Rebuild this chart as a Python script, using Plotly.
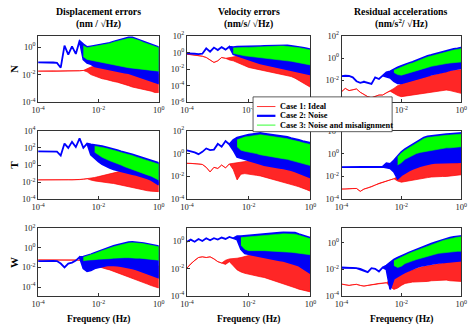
import plotly.graph_objects as go

# ---------------- data (frequency grid in Hz, spectra as log10 exponents) ----------------
FREQ = [1.0e-4, 1.33e-4, 1.78e-4, 2.37e-4, 3.16e-4, 4.22e-4, 5.62e-4, 7.5e-4,
        1.0e-3, 1.33e-3, 1.78e-3, 2.37e-3, 3.16e-3, 4.22e-3, 5.62e-3, 7.5e-3,
        1.0e-2, 1.33e-2, 1.78e-2, 2.37e-2, 3.16e-2, 4.22e-2, 5.62e-2, 7.5e-2,
        0.1, 0.133, 0.178, 0.237, 0.316, 0.422, 0.562, 0.75,
        1.0]
N_ = None

# Row N, displacement errors
N_dis_c1_lo = [-1.75,-1.75,-1.76,-1.75,-1.74,-1.75,-1.76,-1.75, -1.74,-1.75,-1.73,-1.72,-1.7,-1.8,-2.0,-2.1,
               -2.2,-2.3,-2.35,-2.4,-2.5,-2.55,-2.6,-2.7, -2.8,-2.9,-3.0,-3.0,-3.1,-3.15,-3.2,-3.3, -3.3]
N_dis_c1_hi = [-1.75,-1.75,-1.76,-1.75,-1.74,-1.75,-1.76,-1.75, -1.74,-1.75,-1.73,-1.72,-1.7,-1.55,-1.45,-1.4,
               -1.3,-1.25,-1.2,-1.1,-1.0,-0.95,-0.9,-0.85, -0.85,-0.9,-1.0,-1.1,-1.2,-1.3,-1.5,-1.75, -2.0]
N_dis_c2_lo = [-1.12,-1.12,-1.12,-1.13,-1.12,-1.15,-1.5,0.1, -0.55,0.05,-0.5,0.45,-0.9,-1.15,-1.25,-1.4,
               -1.5,-1.55,-1.6,-1.65,-1.7,-1.75,-1.8,-1.85, -1.9,-1.95,-2.05,-2.15,-2.25,-2.35,-2.45,-2.55, -2.65]
N_dis_c2_hi = [-1.12,-1.12,-1.12,-1.13,-1.12,-1.15,-1.5,0.1, -0.55,0.05,-0.5,0.45,0.2,0.0,0.05,0.1,
               0.15,0.15,0.2,0.3,0.4,0.48,0.55,0.62, 0.7,0.7,0.6,0.5,0.38,0.28,0.18,0.08, 0.0]
N_dis_c3_lo = [N_,N_,N_,N_,N_,N_,N_,N_, N_,N_,N_,N_,-0.7,-0.9,-1.0,-1.05,
               -1.1,-1.15,-1.2,-1.25,-1.3,-1.35,-1.4,-1.45, -1.5,-1.55,-1.6,-1.62,-1.65,-1.68,-1.7,-1.72, -1.75]
N_dis_c3_hi = [N_,N_,N_,N_,N_,N_,N_,N_, N_,N_,N_,N_,0.1,-0.05,0.0,0.05,
               0.1,0.1,0.15,0.25,0.35,0.42,0.5,0.57, 0.63,0.63,0.55,0.45,0.33,0.22,0.12,0.03, -0.05]

# Row N, velocity errors
N_vel_c1_lo = [-0.2,-0.25,-0.3,-0.35,-0.45,-0.6,-0.9,-1.2, -1.0,-0.6,-0.7,-0.9,-1.0,-1.2,-1.4,-1.6,
               -1.8,-1.9,-2.0,-2.1,-2.2,-2.3,-2.4,-2.5, -2.6,-2.7,-2.8,-2.9,-3.1,-3.3,-3.6,-3.9, -4.2]
N_vel_c1_hi = [-0.2,-0.25,-0.3,-0.35,-0.45,-0.6,-0.9,-1.2, -1.0,-0.6,-0.7,-0.6,-0.5,-0.45,-0.4,-0.4,
               -0.45,-0.5,-0.5,-0.55,-0.6,-0.65,-0.7,-0.75, -0.85,-0.95,-1.05,-1.2,-1.35,-1.5,-1.7,-1.9, -2.1]
N_vel_c2_lo = [-0.1,-0.1,-0.15,-0.2,-0.15,0.5,0.1,0.6, 0.3,0.65,0.35,0.7,-0.2,-0.4,-0.55,-0.7,
               -0.85,-1.0,-1.15,-1.3,-1.45,-1.55,-1.65,-1.75, -1.85,-1.95,-2.05,-2.15,-2.25,-2.35,-2.45,-2.55, -2.65]
N_vel_c2_hi = [-0.1,-0.1,-0.15,-0.2,-0.15,0.5,0.1,0.6, 0.3,0.65,0.35,0.7,0.65,0.7,0.7,0.72,
               0.72,0.75,0.75,0.78,0.8,0.82,0.85,0.87, 0.88,0.88,0.85,0.8,0.75,0.68,0.6,0.5, 0.4]
N_vel_c3_lo = [N_,N_,N_,N_,N_,N_,N_,N_, N_,N_,N_,N_,-0.1,-0.2,-0.3,-0.4,
               -0.5,-0.55,-0.6,-0.65,-0.7,-0.75,-0.8,-0.85, -0.9,-0.95,-1.0,-1.05,-1.1,-1.2,-1.3,-1.4, -1.5]
N_vel_c3_hi = [N_,N_,N_,N_,N_,N_,N_,N_, N_,N_,N_,N_,0.55,0.6,0.6,0.62,
               0.62,0.65,0.65,0.68,0.7,0.72,0.75,0.77, 0.78,0.78,0.75,0.7,0.65,0.58,0.5,0.4, 0.3]

# Row N, residual accelerations
N_acc_c1_lo = [-3.05,-2.75,-2.95,-2.85,-2.8,-3.1,-3.3,-3.5, -3.6,-3.45,-3.35,-3.35,-3.15,-3.0,-3.2,-3.4,
               -3.5,-3.45,-3.4,-3.35,-3.3,-3.25,-3.2,-3.15, -3.1,-3.05,-3.0,-2.95,-2.9,-2.95,-3.0,-3.1, -3.2]
N_acc_c1_hi = [-3.05,-2.75,-2.95,-2.85,-2.8,-3.1,-3.3,-3.5, -3.6,-3.45,-3.35,-3.35,-3.15,-3.0,-2.75,-2.5,
               -2.35,-2.25,-2.1,-2.0,-1.9,-1.8,-1.7,-1.65, -1.6,-1.5,-1.4,-1.3,-1.2,-1.15,-1.1,-1.05, -1.05]
N_acc_c2_lo = [-1.63,-1.6,-1.62,-1.75,-2.1,-2.25,-2.15,-2.25, -2.35,-1.75,-1.9,-1.6,-1.7,-1.8,-2.1,-2.3,
               -2.3,-2.2,-2.1,-2.0,-1.9,-1.8,-1.72,-1.62, -1.5,-1.42,-1.35,-1.27,-1.2,-1.1,-1.02,-0.97, -0.92]
N_acc_c2_hi = [-1.63,-1.6,-1.62,-1.75,-2.1,-2.25,-2.15,-2.25, -2.35,-1.75,-1.9,-1.6,-1.3,-1.2,-1.0,-0.85,
               -0.7,-0.55,-0.45,-0.35,-0.2,-0.05,0.1,0.2, 0.28,0.38,0.48,0.58,0.65,0.75,0.82,0.88, 0.95]
N_acc_c3_lo = [N_,N_,N_,N_,N_,N_,N_,N_, N_,N_,N_,N_,N_,N_,-1.3,-1.5,
               -1.55,-1.45,-1.35,-1.25,-1.15,-1.05,-0.95,-0.85, -0.75,-0.7,-0.62,-0.55,-0.5,-0.45,-0.4,-0.37, -0.35]
N_acc_c3_hi = [N_,N_,N_,N_,N_,N_,N_,N_, N_,N_,N_,N_,N_,N_,-1.1,-0.95,
               -0.8,-0.65,-0.55,-0.45,-0.3,-0.15,0.0,0.1, 0.18,0.28,0.38,0.48,0.55,0.65,0.72,0.78, 0.85]

# Row T, displacement errors
T_dis_c1_lo = [-1.73,-1.73,-1.74,-1.73,-1.72,-1.73,-1.74,-1.73, -1.72,-1.73,-1.72,-1.7,-1.65,-1.6,-1.75,-1.85,
               -1.95,-2.0,-2.05,-2.1,-2.15,-2.2,-2.3,-2.4, -2.5,-2.6,-2.7,-2.8,-2.9,-3.0,-3.05,-3.1, -3.1]
T_dis_c1_hi = [-1.73,-1.73,-1.74,-1.73,-1.72,-1.73,-1.74,-1.73, -1.72,-1.73,-1.72,-1.7,-1.65,-1.6,-1.5,-1.45,
               -1.35,-1.25,-1.15,-1.0,-0.9,-0.8,-0.7,-0.6, -0.5,-0.5,-0.55,-0.7,-0.9,-1.15,-1.4,-1.7, -2.0]
T_dis_c2_lo = [1.58,1.58,1.57,1.58,1.57,1.56,1.1,2.5, 2.0,2.7,2.1,3.1,2.0,2.5,1.2,0.8,
               0.4,0.1,-0.15,-0.35,-0.5,-0.65,-0.75,-0.85, -0.95,-1.05,-1.15,-1.25,-1.4,-1.55,-1.75,-2.0, -2.3]
T_dis_c2_hi = [1.58,1.58,1.57,1.58,1.57,1.56,1.1,2.5, 2.0,2.7,2.1,3.1,2.0,2.5,2.4,2.35,
               2.3,2.2,2.1,2.0,1.9,1.75,1.6,1.5, 1.4,1.25,1.1,0.95,0.85,0.7,0.55,0.4, 0.25]
T_dis_c3_lo = [N_,N_,N_,N_,N_,N_,N_,N_, N_,N_,N_,N_,N_,N_,N_,1.5,
               1.2,0.9,0.7,0.5,0.3,0.15,0.0,-0.2, -0.35,-0.5,-0.7,-0.85,-1.0,-1.15,-1.3,-1.5, -1.75]
T_dis_c3_hi = [N_,N_,N_,N_,N_,N_,N_,N_, N_,N_,N_,N_,N_,N_,N_,2.2,
               2.15,2.05,1.95,1.85,1.75,1.6,1.45,1.35, 1.25,1.1,0.95,0.8,0.7,0.55,0.4,0.25, 0.1]

# Row T, velocity errors
T_vel_c1_lo = [-0.85,-0.85,-0.9,-0.9,-0.95,-1.2,-1.6,-1.2, -1.3,-1.0,-1.25,-0.9,-1.4,-2.3,-1.8,-1.75,
               -1.8,-1.85,-1.9,-1.95,-2.0,-2.1,-2.2,-2.3, -2.4,-2.5,-2.6,-2.7,-2.8,-2.9,-3.0,-3.15, -3.3]
T_vel_c1_hi = [-0.85,-0.85,-0.9,-0.9,-0.95,-1.2,-1.6,-1.2, -1.3,-1.0,-1.25,-0.9,-0.85,-0.8,-0.75,-0.7,
               -0.65,-0.6,-0.65,-0.7,-0.72,-0.75,-0.8,-0.85, -0.9,-1.0,-1.05,-1.15,-1.25,-1.35,-1.5,-1.6, -1.75]
T_vel_c2_lo = [0.28,0.2,0.1,-0.05,0.15,0.45,0.3,0.35, 0.85,0.6,1.1,0.8,0.3,-0.3,-0.45,-0.55,
               -0.6,-0.7,-0.8,-0.9,-1.0,-1.05,-1.1,-1.2, -1.25,-1.3,-1.35,-1.45,-1.55,-1.65,-1.8,-1.95, -2.1]
T_vel_c2_hi = [0.28,0.2,0.1,-0.05,0.15,0.45,0.3,0.35, 0.85,0.6,1.1,0.8,1.2,1.4,1.5,1.6,
               1.65,1.7,1.75,1.8,1.75,1.7,1.7,1.65, 1.55,1.5,1.45,1.35,1.3,1.2,1.1,1.0, 0.95]
T_vel_c3_lo = [N_,N_,N_,N_,N_,N_,N_,N_, N_,N_,N_,N_,N_,0.6,0.3,0.2,
               0.1,0.05,0.0,-0.1,-0.15,-0.2,-0.25,-0.3, -0.4,-0.45,-0.5,-0.6,-0.7,-0.75,-0.85,-0.95, -1.05]
T_vel_c3_hi = [N_,N_,N_,N_,N_,N_,N_,N_, N_,N_,N_,N_,N_,1.2,1.35,1.45,
               1.5,1.55,1.6,1.65,1.6,1.55,1.55,1.5, 1.4,1.35,1.3,1.2,1.15,1.05,0.95,0.85, 0.8]

# Row T, residual accelerations
T_acc_c1_lo = [-3.1,-3.1,-3.1,-3.05,-3.05,-3.3,-3.1,-3.0, -2.9,-2.75,-2.6,-2.5,-2.4,-2.3,-2.2,-2.4,
               -2.5,-2.4,-2.35,-2.3,-2.25,-2.2,-2.15,-2.1, -2.05,-2.0,-2.0,-2.0,-2.0,-1.95,-1.9,-1.9, -1.85]
T_acc_c1_hi = [-3.1,-3.1,-3.1,-3.05,-3.05,-3.3,-3.1,-3.0, -2.9,-2.75,-2.6,-2.5,-2.4,-2.3,-2.2,-2.0,
               -1.8,-1.6,-1.45,-1.3,-1.15,-1.0,-0.9,-0.8, -0.75,-0.7,-0.7,-0.7,-0.7,-0.75,-0.8,-0.85, -0.85]
T_acc_c2_lo = [-1.18,-1.18,-1.17,-1.18,-1.18,-1.17,-1.18,-1.18, -1.17,-1.18,-1.18,-1.15,-1.2,-1.3,-1.6,-2.2,
               -1.9,-1.7,-1.5,-1.35,-1.2,-1.1,-1.0,-0.9, -0.85,-0.8,-0.8,-0.75,-0.75,-0.75,-0.75,-0.75, -0.75]
T_acc_c2_hi = [-1.18,-1.18,-1.17,-1.18,-1.18,-1.17,-1.18,-1.18, -1.17,-1.18,-1.18,-1.15,-0.85,-0.9,-0.6,-0.2,
               0.15,0.4,0.6,0.85,1.05,1.25,1.4,1.5, 1.55,1.6,1.6,1.65,1.7,1.72,1.75,1.78, 1.8]
T_acc_c3_lo = [N_,N_,N_,N_,N_,N_,N_,N_, N_,N_,N_,N_,N_,N_,N_,-1.0,
               -0.8,-0.5,-0.3,-0.15,0.0,0.1,0.15,0.25, 0.3,0.35,0.4,0.45,0.5,0.5,0.55,0.55, 0.6]
T_acc_c3_hi = [N_,N_,N_,N_,N_,N_,N_,N_, N_,N_,N_,N_,N_,N_,N_,-0.3,
               0.05,0.3,0.5,0.75,0.95,1.15,1.3,1.4, 1.45,1.5,1.5,1.55,1.6,1.62,1.65,1.68, 1.7]

# Row W, displacement errors
W_dis_c1_lo = [-1.23,-1.23,-1.23,-1.22,-1.23,-1.23,-1.24,-1.23, -1.23,-1.23,-1.23,-1.25,-1.3,-1.35,-1.6,-1.8,
               -1.95,-2.05,-2.15,-2.25,-2.4,-2.5,-2.65,-2.8, -2.95,-3.1,-3.25,-3.4,-3.55,-3.7,-3.85,-4.0, -4.1]
W_dis_c1_hi = [-1.23,-1.23,-1.23,-1.22,-1.23,-1.23,-1.24,-1.23, -1.23,-1.23,-1.23,-1.25,-1.3,-1.35,-1.3,-1.25,
               -1.2,-1.15,-1.1,-1.05,-1.0,-0.95,-0.92,-0.9, -0.9,-0.95,-1.0,-1.1,-1.25,-1.4,-1.55,-1.7, -1.85]
W_dis_c2_lo = [-1.36,-1.36,-1.35,-1.36,-1.33,-1.35,-1.6,-2.0, -1.6,-1.5,-1.3,-0.95,-2.1,-2.4,-2.3,-2.1,
               -2.0,-1.9,-1.8,-1.75,-1.75,-1.8,-1.85,-1.9, -2.0,-2.1,-2.2,-2.35,-2.5,-2.6,-2.75,-2.9, -3.05]
W_dis_c2_hi = [-1.36,-1.36,-1.35,-1.36,-1.33,-1.35,-1.6,-2.0, -1.6,-1.5,-1.3,-0.95,-0.9,-0.8,-0.65,-0.5,
               -0.35,-0.2,-0.05,0.1,0.2,0.3,0.4,0.5, 0.6,0.62,0.6,0.55,0.5,0.42,0.35,0.27, 0.19]
W_dis_c3_lo = [N_,N_,N_,N_,N_,N_,N_,N_, N_,N_,N_,N_,-1.3,-1.25,-1.2,-1.2,
               -1.15,-1.15,-1.1,-1.1,-1.05,-1.05,-1.0,-1.0, -1.0,-1.0,-1.05,-1.05,-1.1,-1.1,-1.15,-1.2, -1.25]
W_dis_c3_hi = [N_,N_,N_,N_,N_,N_,N_,N_, N_,N_,N_,N_,-0.95,-0.85,-0.72,-0.58,
               -0.42,-0.28,-0.12,0.02,0.12,0.22,0.32,0.42, 0.5,0.53,0.52,0.47,0.42,0.35,0.27,0.2, 0.12]

# Row W, velocity errors
W_vel_c1_lo = [-1.97,-1.65,-1.4,-1.2,-1.15,-1.2,-1.15,-1.3, -1.5,-1.6,-1.7,-1.5,-1.8,-2.1,-2.25,-2.35,
               -2.45,-2.5,-2.55,-2.6,-2.65,-2.75,-2.85,-2.95, -3.0,-3.1,-3.2,-3.3,-3.4,-3.5,-3.55,-3.65, -3.7]
W_vel_c1_hi = [-1.97,-1.65,-1.4,-1.2,-1.15,-1.2,-1.15,-1.3, -1.5,-1.6,-1.4,-1.3,-1.3,-1.25,-1.2,-1.1,
               -1.05,-1.0,-0.97,-0.95,-0.93,-0.93,-0.95,-1.0, -1.1,-1.2,-1.3,-1.45,-1.6,-1.7,-1.8,-1.9, -1.97]
W_vel_c2_lo = [-0.05,0.1,-0.05,0.15,0.0,0.2,0.05,0.2, 0.1,0.25,0.15,0.3,0.2,0.1,-0.6,-0.9,
               -1.0,-1.05,-1.1,-1.15,-1.2,-1.25,-1.3,-1.35, -1.4,-1.45,-1.5,-1.6,-1.7,-1.8,-1.95,-2.15, -2.35]
W_vel_c2_hi = [-0.05,0.1,-0.05,0.15,0.0,0.2,0.05,0.2, 0.1,0.25,0.15,0.3,0.2,0.35,0.35,0.38,
               0.4,0.42,0.45,0.47,0.5,0.52,0.55,0.58, 0.6,0.62,0.63,0.63,0.6,0.5,0.42,0.32, 0.23]
W_vel_c3_lo = [N_,N_,N_,N_,N_,N_,N_,N_, N_,N_,N_,N_,N_,N_,-0.3,-0.6,
               -0.7,-0.7,-0.7,-0.7,-0.7,-0.7,-0.7,-0.72, -0.75,-0.77,-0.8,-0.82,-0.85,-0.88,-0.9,-0.95, -1.0]
W_vel_c3_hi = [N_,N_,N_,N_,N_,N_,N_,N_, N_,N_,N_,N_,N_,N_,0.25,0.28,
               0.3,0.33,0.36,0.38,0.4,0.43,0.45,0.48, 0.5,0.52,0.53,0.53,0.5,0.42,0.34,0.25, 0.16]

# Row W, residual accelerations
W_acc_c1_lo = [-3.1,-3.15,-3.2,-3.15,-3.12,-3.2,-3.25,-3.2, -3.15,-3.1,-3.05,-3.0,-3.0,-3.3,-3.5,-3.4,
               -3.2,-3.05,-3.0,-2.95,-2.95,-2.9,-2.9,-2.9, -2.85,-2.85,-2.8,-2.8,-2.8,-2.85,-2.85,-2.9, -2.9]
W_acc_c1_hi = [-3.1,-3.15,-3.2,-3.15,-3.12,-3.2,-3.25,-3.2, -3.15,-3.1,-3.05,-3.0,-3.0,-2.8,-2.6,-2.45,
               -2.3,-2.2,-2.1,-2.0,-1.95,-1.85,-1.78,-1.72, -1.68,-1.62,-1.58,-1.53,-1.48,-1.42,-1.38,-1.33, -1.3]
W_acc_c2_lo = [-1.87,-1.87,-1.87,-1.88,-1.9,-1.95,-2.1,-2.2, -1.9,-1.95,-2.15,-1.85,-2.0,-3.5,-2.7,-2.5,
               -2.35,-2.2,-2.05,-1.95,-1.85,-1.75,-1.68,-1.62, -1.58,-1.54,-1.5,-1.46,-1.43,-1.4,-1.38,-1.36, -1.34]
W_acc_c2_hi = [-1.87,-1.87,-1.87,-1.88,-1.9,-1.95,-2.1,-2.2, -1.9,-1.95,-2.15,-1.85,-1.7,-1.45,-1.25,-1.1,
               -0.95,-0.85,-0.72,-0.6,-0.5,-0.38,-0.25,-0.15, -0.05,0.05,0.15,0.25,0.32,0.4,0.45,0.5, 0.53]
W_acc_c3_lo = [N_,N_,N_,N_,N_,N_,N_,N_, N_,N_,N_,N_,N_,N_,-1.7,-1.85,
               -1.75,-1.55,-1.45,-1.35,-1.25,-1.15,-1.08,-1.0, -0.92,-0.85,-0.78,-0.73,-0.7,-0.67,-0.65,-0.63, -0.62]
W_acc_c3_hi = [N_,N_,N_,N_,N_,N_,N_,N_, N_,N_,N_,N_,N_,N_,-1.35,-1.2,
               -1.05,-0.93,-0.8,-0.68,-0.57,-0.45,-0.33,-0.22, -0.12,-0.02,0.08,0.17,0.25,0.32,0.38,0.43, 0.46]

COL_TITLES = ["Displacement errors", "Velocity errors", "Residual accelerations"]
COL_UNITS = ["(nm / \u221aHz)", "(nm/s/ \u221aHz)", "(nm/s<sup>2</sup>/ \u221aHz)"]
ROW_LABELS = ["N", "T", "W"]
CASE_NAMES = ["Case 1: Ideal", "Case 2: Noise", "Case 3: Noise and misalignment"]
X_TICKS = [1e-4, 1e-2, 1e0]
X_TICKTEXT = ["10<sup>-4</sup>", "10<sup>-2</sup>", "10<sup>0</sup>"]

# y-axis ranges (log10) and tick exponents per panel
Y_RANGES = [[(-4, 0.8), (-6, 2), (-4, 2)],
            [(-4, 4), (-4, 2), (-4, 2)],
            [(-4.92, 2), (-4, 0.92), (-4, 1.1)]]
Y_TICKEXP = [[[-4, -2, 0], [-6, -4, -2, 0, 2], [-4, -2, 0, 2]],
             [[-4, -2, 0, 2, 4], [-4, -2, 0, 2], [-4, -2, 0, 2]],
             [[-4, -2, 0, 2], [-4, -2, 0], [-4, -2, 0]]]

PANELS = [
    [(N_dis_c1_lo, N_dis_c1_hi, N_dis_c2_lo, N_dis_c2_hi, N_dis_c3_lo, N_dis_c3_hi),
     (N_vel_c1_lo, N_vel_c1_hi, N_vel_c2_lo, N_vel_c2_hi, N_vel_c3_lo, N_vel_c3_hi),
     (N_acc_c1_lo, N_acc_c1_hi, N_acc_c2_lo, N_acc_c2_hi, N_acc_c3_lo, N_acc_c3_hi)],
    [(T_dis_c1_lo, T_dis_c1_hi, T_dis_c2_lo, T_dis_c2_hi, T_dis_c3_lo, T_dis_c3_hi),
     (T_vel_c1_lo, T_vel_c1_hi, T_vel_c2_lo, T_vel_c2_hi, T_vel_c3_lo, T_vel_c3_hi),
     (T_acc_c1_lo, T_acc_c1_hi, T_acc_c2_lo, T_acc_c2_hi, T_acc_c3_lo, T_acc_c3_hi)],
    [(W_dis_c1_lo, W_dis_c1_hi, W_dis_c2_lo, W_dis_c2_hi, W_dis_c3_lo, W_dis_c3_hi),
     (W_vel_c1_lo, W_vel_c1_hi, W_vel_c2_lo, W_vel_c2_hi, W_vel_c3_lo, W_vel_c3_hi),
     (W_acc_c1_lo, W_acc_c1_hi, W_acc_c2_lo, W_acc_c2_hi, W_acc_c3_lo, W_acc_c3_hi)],
]

# ---------------- styling / layout ----------------
W, H = 474, 331
RED, BLUE, GREEN = "rgb(255,0,0)", "rgb(0,0,255)", "rgb(0,255,0)"
FILLS = {RED: "rgba(255,0,0,0.85)", BLUE: "rgb(0,0,245)", GREEN: "rgb(0,255,0)"}
SERIF = "Liberation Serif, Times New Roman, serif"
COL_PX = [(32, 156), (185, 312), (344, 467)]
ROW_PX = [(31, 99.5), (129, 200), (230, 300)]


def band(lo, hi):
    pts = [(f, l, h) for f, l, h in zip(FREQ, lo, hi) if l is not None]
    xs = [p[0] for p in pts]
    top = [10 ** p[2] for p in pts]
    bot = [10 ** p[1] for p in pts]
    return xs + xs[::-1], top + bot[::-1]


fig = go.Figure()
layout = dict(width=W, height=H, margin=dict(l=0, r=0, t=0, b=0),
              paper_bgcolor="white", plot_bgcolor="white", showlegend=False,
              font=dict(family=SERIF, size=8.5, color="#222"))

for r in range(3):
    for c in range(3):
        idx = r * 3 + c + 1
        xa = "x" if idx == 1 else f"x{idx}"
        ya = "y" if idx == 1 else f"y{idx}"
        c1lo, c1hi, c2lo, c2hi, c3lo, c3hi = PANELS[r][c]
        # draw order: case 1 (red), case 2 (blue), case 3 (green)
        for lo, hi, col, w in ((c1lo, c1hi, RED, 0.7), (c2lo, c2hi, BLUE, 1.8), (c3lo, c3hi, GREEN, 0.6)):
            x, y = band(lo, hi)
            fig.add_trace(go.Scatter(x=x, y=y, mode="lines", fill="toself", fillcolor=FILLS[col],
                                     line=dict(color=col, width=w), xaxis=xa, yaxis=ya,
                                     hoverinfo="skip"))
        x0, x1 = COL_PX[c]
        yt, yb = ROW_PX[r]
        lo_r, hi_r = Y_RANGES[r][c]
        common = dict(showgrid=False, zeroline=False, showline=True, mirror=True,
                      linecolor="#333", linewidth=0.8, ticks="inside", ticklen=3,
                      tickcolor="#333", tickwidth=0.8,
                      tickfont=dict(family=SERIF, size=8.5, color="#222"))
        layout["xaxis" if idx == 1 else f"xaxis{idx}"] = dict(
            type="log", range=[-4, 0], domain=[x0 / W, x1 / W],
            anchor=ya, tickvals=X_TICKS, ticktext=X_TICKTEXT, **common)
        exps = Y_TICKEXP[r][c]
        layout["yaxis" if idx == 1 else f"yaxis{idx}"] = dict(
            type="log", range=[lo_r, hi_r], domain=[1 - yb / H, 1 - yt / H],
            anchor=xa, tickvals=[10 ** e for e in exps],
            ticktext=[f"10<sup>{e}</sup>" for e in exps], **common)

fig.update_layout(**layout)

ann = []
bold = dict(family=SERIF, color="black")


def txt(xpx, ypx, text, size, xanchor="center", angle=0):
    return dict(x=xpx / W, y=1 - ypx / H, xref="paper", yref="paper", showarrow=False,
                xanchor=xanchor, yanchor="middle", text=text, textangle=angle,
                font=dict(size=size, **bold))


for c in range(3):
    xc = (COL_PX[c][0] + COL_PX[c][1]) / 2
    ann.append(txt(xc, 6, f"<b>{COL_TITLES[c]}</b>", 9.8))
    ann.append(txt(xc, 18.5, f"<b>{COL_UNITS[c]}</b>", 9.8))
    ann.append(txt(xc, 324, "<b>Frequency (Hz)</b>", 9.5))
for r in range(3):
    yc = (ROW_PX[r][0] + ROW_PX[r][1]) / 2
    ann.append(txt(7, yc, f"<b>{ROW_LABELS[r]}</b>", 11, angle=-90))

# legend box (drawn manually to match the compact MATLAB legend)
LEG = dict(x0=253, x1=396, y0=94, y1=130)
shapes = [dict(type="rect", xref="paper", yref="paper", layer="above",
               x0=LEG["x0"] / W, x1=LEG["x1"] / W, y0=1 - LEG["y1"] / H, y1=1 - LEG["y0"] / H,
               fillcolor="white", line=dict(color="#333", width=0.8))]
for i, (name, col, w) in enumerate(zip(CASE_NAMES, (RED, BLUE, GREEN), (0.8, 2.2, 0.8))):
    ypx = 104 + i * 9.6
    shapes.append(dict(type="line", xref="paper", yref="paper", layer="above",
                       x0=257 / W, x1=276 / W, y0=1 - ypx / H, y1=1 - ypx / H,
                       line=dict(color=col, width=w)))
    ann.append(txt(279, ypx, f"<b>{name}</b>", 8.3, xanchor="left"))

fig.update_layout(annotations=ann, shapes=shapes)
fig.write_html("out.html")
